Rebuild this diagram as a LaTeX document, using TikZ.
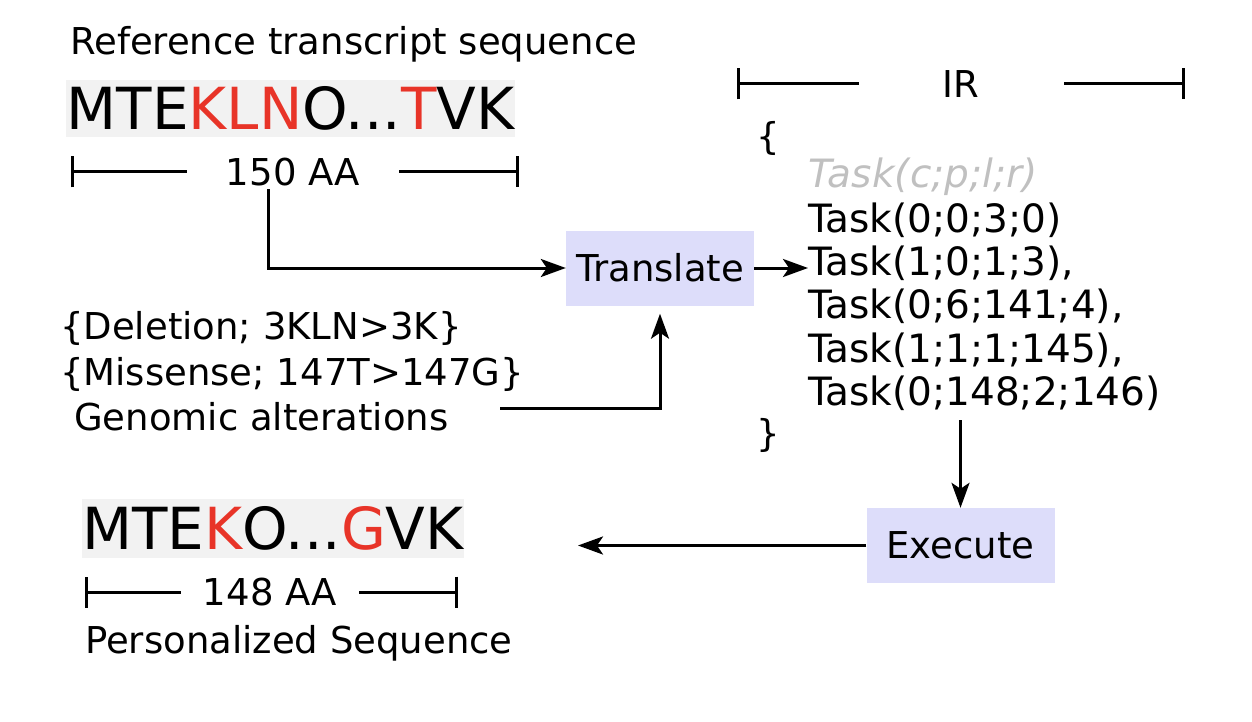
\documentclass[tikz,border=0pt]{standalone}
\usepackage{fontspec}
\setmainfont{DejaVu Sans}
\usepackage{tikz}
\usetikzlibrary{arrows.meta}
\definecolor{mutred}{RGB}{232,52,40}
\definecolor{seqgray}{RGB}{242,242,242}
\definecolor{procfill}{RGB}{221,221,250}
\definecolor{hintgray}{RGB}{192,192,192}
\tikzset{
>={Stealth[length=25pt, width=18pt, inset=6pt]}, % big stealth heads
x=1pt, y=-1pt, % one unit is one pixel of the figure
txt/.style={inner sep=0pt, anchor=base west, font=\fontsize{37}{44}\selectfont},
task/.style={txt, font=\fontsize{39}{46}\selectfont},
lbl/.style={inner ysep=3pt, font=\fontsize{37}{44}\selectfont},
seq/.style={fill=seqgray, inner sep=0pt, font=\fontsize{58}{70}\selectfont},
proc/.style={fill=procfill, inner sep=0pt, minimum width=188pt, minimum height=75pt, font=\fontsize{37}{44}\selectfont},
flow/.style={->, line width=3pt},
span/.style={{Bar[width=31pt]}-, line width=3pt},
}

\begin{document}
\begin{tikzpicture}
    \useasboundingbox (0,0) rectangle (1252,722);

    % reference sequence
    \node[txt] (reftitle) at (70,55) {Reference transcript sequence};
    \node[seq, minimum width=449pt, minimum height=57pt] (refseq) at (290.5,108.5)
        {MTE\textcolor{mutred}{KLN}O...\textcolor{mutred}{T}VK};
    \node[lbl, inner xsep=39pt] (aa150) at (293,172) {150 AA};
    \coordinate (l150) at (71,172);
    \coordinate (r150) at (519,172);
    \draw[span] (l150) -- (aa150);
    \draw[span] (r150) -- (aa150);

    % genomic alterations
    \node[txt] (deletion) at (60,339) {\{Deletion; 3KLN>3K\}};
    \node[txt] (missense) at (60,385) {\{Missense; 147T>147G\}};
    \node[txt] (genomic) at (74,430) {Genomic alterations};
    \coordinate (altstart) at (500,408);

    % translate step
    \node[proc] (translate) at (660,268) {Translate};

    % intermediate representation
    \node[lbl, inner xsep=84pt] (ir) at (961,84) {IR};
    \coordinate (lir) at (737,84);
    \coordinate (rir) at (1185,84);
    \draw[span] (lir) -- (ir);
    \draw[span] (rir) -- (ir);
    \node[txt] (open) at (756,150) {\{};
    \node[task, text=hintgray, font=\fontsize{39}{46}\selectfont\itshape] (hint) at (808,188) {Task(c;p;l;r)};
    \node[task] (task1) at (808,233) {Task(0;0;3;0)};
    \node[task] (task2) at (808,275) {Task(1;0;1;3),};
    \node[task] (task3) at (808,318) {Task(0;6;141;4),};
    \node[task] (task4) at (808,362) {Task(1;1;1;145),};
    \node[task] (task5) at (808,405) {Task(0;148;2;146)};
    \node[txt] (close) at (756,446) {\}};

    % execute step
    \node[proc] (execute) at (960.5,545.5) {Execute};
    \coordinate (outend) at (578,545.5);

    % personalized sequence
    \node[seq, minimum width=380pt, minimum height=59pt] (perseq) at (273,528.5)
        {MTE\textcolor{mutred}{K}O...\textcolor{mutred}{G}VK};
    \node[lbl, inner xsep=22pt] (aa148) at (270,592) {148 AA};
    \coordinate (l148) at (85,592);
    \coordinate (r148) at (458,592);
    \draw[span] (l148) -- (aa148);
    \draw[span] (r148) -- (aa148);
    \node[txt] (pertitle) at (85,653) {Personalized Sequence};

    % connectors
    \draw[flow] ([xshift=-25pt]aa150.south) |- (translate.west);
    \draw[flow, shorten >=8pt] (altstart) -| (translate.south);
    \draw[flow] (translate.east) -- (translate.east -| task2.west);
    \draw[flow, shorten <=10pt] (task5.south -| execute.north) -- (execute.north);
    \draw[flow] (execute.west) -- (outend);
\end{tikzpicture}
\end{document}
